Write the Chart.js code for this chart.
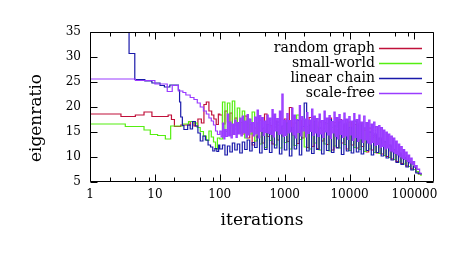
<!DOCTYPE html>
<html><head><meta charset="utf-8">
<script src="https://cdn.jsdelivr.net/npm/chart.js@4"></script>
<style>html,body{margin:0;padding:0;background:#fff}</style>
</head><body>
<canvas id="c" width="457" height="258"></canvas>
<script>
const SERIES_NAMES = ['random graph', 'small-world', 'linear chain', 'scale-free'];
const X_TICKS = [1, 10, 100, 1000, 10000, 100000];
const X_MINOR = [2, 5, 8, 20, 50, 80, 200, 500, 800, 2000, 5000, 8000, 20000, 50000, 80000];
const Y_TICKS = [5, 10, 15, 20, 25, 30, 35];

// early (stepped) part of each run
const RG_X = [1, 3, 5, 6.8, 9, 16, 18, 20, 25, 35, 40, 46, 52, 57, 62, 68, 75, 81, 88, 95];
const RG_Y = [18.6, 18.1, 18.4, 19.0, 18.1, 18.4, 17.5, 16.1, 16.4, 17.1, 16.2, 17.6, 16.8, 20.5, 21.0, 19.2, 18.4, 17.6, 16.5, 18.6];
const SW_X = [1, 3.5, 6.8, 8.5, 11, 14.5, 17.5, 27, 33, 40, 45, 50, 56, 62, 68, 74, 80, 86, 92];
const SW_Y = [16.6, 16.1, 15.4, 14.5, 14.3, 13.6, 16.2, 16.6, 17.1, 16.8, 15.9, 15.1, 14.2, 13.3, 15.2, 14.0, 13.0, 11.6, 13.8];
const LC_X = [1, 4, 4.9, 7, 9, 12, 14, 17, 23, 24, 25, 26.5, 28, 32, 35, 38, 42, 46, 50, 55, 60, 66, 72, 78, 84, 90, 96];
const LC_Y = [40, 30.7, 25.5, 25.2, 24.8, 24.3, 24.0, 24.4, 23.4, 21, 18, 16.3, 15.5, 16.4, 15.6, 17.1, 16.2, 14.8, 13.2, 14.2, 13.4, 12.4, 12.0, 11.2, 11.7, 11.1, 12.4];
const SF_X = [1, 5, 10, 15.5, 18.5, 23, 27, 30, 35, 40, 45, 50, 56, 62, 68, 74, 80, 86, 92];
const SF_Y = [25.6, 25.3, 24.6, 23.1, 24.3, 23.2, 22.9, 22.4, 21.9, 21.5, 20.8, 20.0, 19.2, 18.6, 17.8, 17.2, 16.4, 15.2, 14.5];

// noisy part: iteration samples (scale-free uses all, the others every second one)
const NOISY_X = [100, 105, 110, 115, 120, 125, 131, 137, 143, 149, 156, 163, 170, 178, 186, 194, 203, 212, 222, 232,
  242, 253, 264, 276, 289, 302, 315, 329, 344, 360, 376, 393, 410, 429, 448, 468, 489, 511, 534, 558,
  583, 609, 637, 665, 695, 726, 759, 793, 829, 866, 905, 946, 988, 1030, 1080, 1130, 1180, 1230, 1290, 1340,
  1400, 1460, 1530, 1600, 1680, 1750, 1830, 1910, 2000, 2090, 2180, 2280, 2380, 2490, 2600, 2720, 2840, 2970, 3100, 3240,
  3390, 3540, 3700, 3870, 4040, 4220, 4410, 4610, 4820, 5040, 5260, 5500, 5740, 6000, 6270, 6550, 6850, 7160, 7480, 7820,
  8170, 8540, 8920, 9320, 9740, 10200, 10600, 11100, 11600, 12100, 12700, 13300, 13900, 14500, 15100, 15800, 16500, 17300, 18100, 18900,
  19700, 20600, 21600, 22500, 23500, 24600, 25700, 26900, 28100, 29400, 30700, 32100, 33500, 35000, 36600, 38200, 39900, 41700, 43600, 45600,
  47600, 49800, 52000, 54300, 56800, 59300, 62000, 64800, 67700, 70700, 73900, 77200, 80700, 84300, 88100, 92100, 96200, 100500, 105000, 110000,
  115000, 120000, 126000];
const RG_NOISY = [18.4,16.6,19.2,17.0,18.8,16.2,17.8,15.8,16.9,14.6,
  18.2,13.8,16.5,12.4,15.8,13.9,17.4,12.8,18.6,14.1,
  16.3,12.6,17.2,13.4,16.0,14.2,17.6,13.1,19.9,14.4,
  16.8,12.7,17.3,13.8,16.1,11.9,17.9,12.1,16.4,11.7,
  17.0,13.2,16.6,12.5,17.8,11.4,16.9,11.9,17.5,12.8,
  16.2,11.6,17.0,12.4,16.5,11.8,16.8,12.1,15.4,11.0,
  15.8,11.4,14.2,10.8,13.6,10.6,13.0,10.1,12.2,9.6,
  11.4,9.1,10.6,8.7,9.8,8.2,8.9,7.6,8.0,7.0,
  6.6,6.4];
const SW_NOISY = [13.6,21.0,15.1,20.8,14.4,21.2,15.6,19.8,14.9,19.2,
  13.8,17.6,14.6,19.0,13.2,16.8,12.6,15.6,11.9,16.2,
  13.3,15.0,12.4,16.4,11.8,15.7,12.9,16.8,11.6,15.2,
  12.3,18.4,13.5,15.6,12.0,16.1,11.6,17.8,12.8,16.0,
  11.4,15.3,12.6,16.7,11.2,15.9,12.2,16.4,11.8,15.1,
  12.5,16.8,11.3,15.6,11.9,16.0,11.5,15.2,11.1,14.8,
  11.6,14.1,10.9,13.7,10.7,12.8,10.3,12.3,9.9,11.6,
  9.5,11.0,9.0,10.2,8.6,9.4,8.1,8.5,7.5,7.1,
  6.6,6.2];
const LC_NOISY = [11.6,12.4,10.4,12.2,11.0,12.8,11.4,12.6,10.8,13.0,
  11.5,13.4,11.2,12.9,11.9,14.2,10.8,15.8,11.5,16.5,
  10.9,15.2,11.8,17.0,10.6,16.2,11.4,16.8,10.2,15.9,
  11.6,17.3,10.4,16.1,20.8,11.2,16.4,10.7,17.1,11.5,
  15.8,10.6,16.9,11.3,17.5,10.9,16.2,11.8,17.0,10.5,
  16.6,11.2,15.9,10.8,17.2,11.0,16.4,10.6,15.8,11.3,
  15.0,10.4,14.6,10.9,13.8,10.2,13.1,9.8,12.4,9.4,
  11.5,8.9,10.8,8.5,9.9,8.0,9.0,7.4,8.1,6.8,
  6.7,6.5];
const SF_NOISY = [15.2,14.0,16.8,13.6,15.5,14.1,18.6,14.2,17.0,13.8,16.6,14.5,17.4,13.9,16.9,14.6,17.8,14.2,18.2,14.8,
  17.2,13.9,18.5,14.4,17.6,15.0,16.9,14.2,18.0,14.6,19.4,13.8,18.3,15.1,17.9,14.3,17.2,14.9,18.4,14.7,
  17.8,14.5,19.5,14.0,18.6,15.2,17.7,14.5,19.2,14.6,22.6,14.1,17.4,14.3,18.7,14.8,17.3,15.0,19.8,14.4,
  18.4,13.8,17.5,14.9,20.3,14.2,18.1,15.2,17.6,14.0,18.9,14.7,17.4,15.1,19.6,14.3,18.2,14.8,17.7,14.1,
  18.6,14.6,17.3,13.9,19.2,15.0,17.8,14.4,18.3,13.7,17.1,14.8,19.0,14.1,17.9,13.6,18.5,14.5,17.4,13.9,
  18.8,14.2,17.6,13.5,18.1,14.4,17.2,13.3,18.7,13.9,17.5,13.1,18.4,13.6,17.0,12.9,18.2,13.4,16.9,12.8,
  17.4,12.6,16.6,12.9,17.0,12.3,16.1,12.5,16.3,11.9,15.9,12.1,15.4,11.6,15.0,11.8,14.6,11.2,14.2,11.0,
  13.8,10.7,13.2,10.4,12.6,10.0,12.1,9.7,11.5,9.5,11.0,9.1,10.4,8.8,9.8,8.4,9.1,8.0,8.3,7.5,
  7.6,6.8,6.5];

const COLORS = ['#c0103a', '#55ee11', '#1a1aaa', '#9a3cff'];

const SPARSE_X = NOISY_X.filter((x, i) => i % 2 === 0);
function pts(xs, ys) { return xs.map((x, i) => ({ x: x, y: ys[i] })); }
const SERIES = [
  pts(RG_X.concat(SPARSE_X), RG_Y.concat(RG_NOISY)),
  pts(SW_X.concat(SPARSE_X), SW_Y.concat(SW_NOISY)),
  pts(LC_X.concat(SPARSE_X), LC_Y.concat(LC_NOISY)),
  pts(SF_X.concat(NOISY_X), SF_Y.concat(SF_NOISY))
];

const SERIF = '"DejaVu Serif", "Liberation Serif", serif';

const framePlugin = {
  id: 'frame',
  afterDatasetsDraw(chart) {
    const { ctx, chartArea: a, scales } = chart;
    const xs = scales.x, ys = scales.y;
    ctx.save();
    ctx.strokeStyle = '#000';
    ctx.lineWidth = 1;
    ctx.beginPath();
    const L = Math.round(a.left) + 0.5, R = Math.round(a.right) - 0.5;
    const T = Math.round(a.top) + 0.5, B = Math.round(a.bottom) - 0.5;
    ctx.rect(L, T, R - L, B - T);
    X_TICKS.forEach(v => {
      const p = Math.round(xs.getPixelForValue(v)) + 0.5;
      ctx.moveTo(p, B); ctx.lineTo(p, B - 7);
      ctx.moveTo(p, T); ctx.lineTo(p, T + 7);
    });
    X_MINOR.forEach(v => {
      const p = Math.round(xs.getPixelForValue(v)) + 0.5;
      ctx.moveTo(p, B); ctx.lineTo(p, B - 4);
      ctx.moveTo(p, T); ctx.lineTo(p, T + 4);
    });
    Y_TICKS.forEach(v => {
      const p = Math.round(ys.getPixelForValue(v)) + 0.5;
      ctx.moveTo(L, p); ctx.lineTo(L + 7, p);
      ctx.moveTo(R, p); ctx.lineTo(R - 7, p);
    });
    ctx.stroke();

    // legend
    ctx.font = '14px ' + SERIF;
    ctx.textAlign = 'right';
    ctx.textBaseline = 'alphabetic';
    ctx.fillStyle = '#000';
    SERIES_NAMES.forEach((name, i) => {
      const y = 48.5 + i * 15;
      ctx.fillText(name, 375, y + 3.5);
      ctx.beginPath();
      ctx.strokeStyle = COLORS[i];
      ctx.lineWidth = 1.3;
      ctx.moveTo(379, y); ctx.lineTo(422, y);
      ctx.stroke();
    });

    // axis titles
    ctx.font = '17px ' + SERIF;
    ctx.textAlign = 'center';
    ctx.fillText('iterations', (a.left + a.right) / 2, 225);
    ctx.translate(41, 118);
    ctx.rotate(-Math.PI / 2);
    ctx.fillText('eigenratio', 0, 0);
    ctx.restore();
  }
};

new Chart(document.getElementById('c'), {
  type: 'line',
  data: {
    datasets: SERIES.map((d, i) => ({
      label: SERIES_NAMES[i],
      data: d,
      borderColor: COLORS[i],
      backgroundColor: COLORS[i],
      borderWidth: 1.2,
      pointRadius: 0,
      stepped: 'before',
      fill: false,
      order: 3 - i
    }))
  },
  options: {
    responsive: false,
    animation: false,
    devicePixelRatio: 1,
    layout: { padding: { top: 32, right: 23, left: 0, bottom: 0 } },
    plugins: { legend: { display: false }, tooltip: { enabled: false } },
    scales: {
      x: {
        type: 'logarithmic', min: 1, max: 200000,
        grid: { display: false, drawTicks: false },
        border: { display: false },
        afterBuildTicks: s => { s.ticks = X_TICKS.map(v => ({ value: v })); },
        afterFit: s => { s.height = 76; },
        ticks: {
          font: { family: SERIF, size: 12 }, color: '#000', padding: 6,
          maxRotation: 0, autoSkip: false, callback: v => String(v)
        }
      },
      y: {
        min: 5, max: 35,
        grid: { display: false, drawTicks: false },
        border: { display: false },
        afterBuildTicks: s => { s.ticks = Y_TICKS.map(v => ({ value: v })); },
        afterFit: s => { s.width = 90; },
        ticks: { font: { family: SERIF, size: 12 }, color: '#000', padding: 9, callback: v => String(v) }
      }
    }
  },
  plugins: [framePlugin]
});
</script>
</body></html>
